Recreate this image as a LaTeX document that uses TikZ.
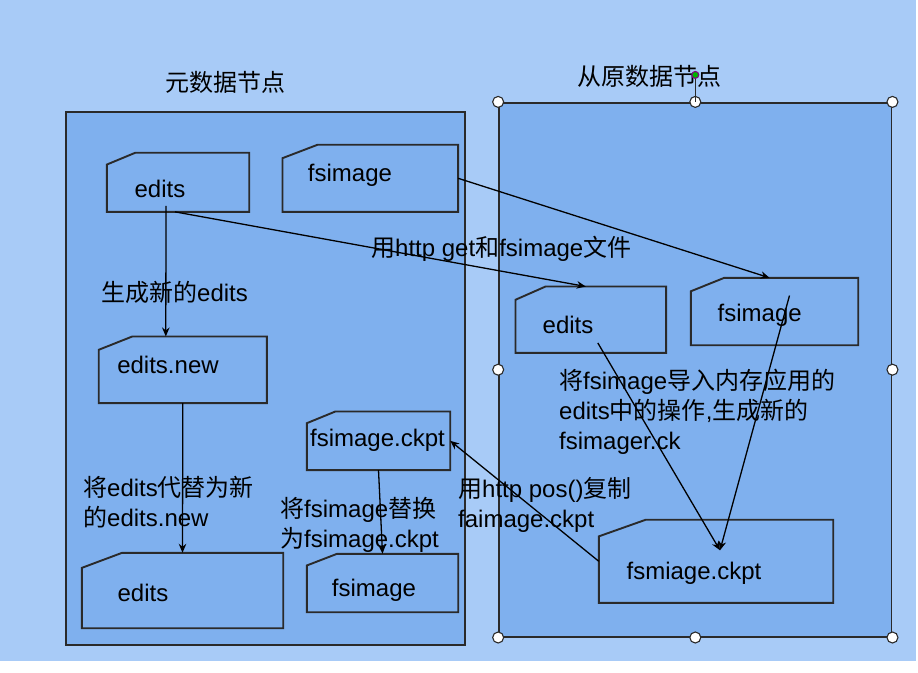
\documentclass[tikz,border=0pt]{standalone}
\usepackage{fontspec}
\setmainfont{Liberation Sans}
\newfontfamily\cjk{Noto Sans CJK SC}
\usetikzlibrary{arrows.meta, calc}
\definecolor{pagebg}{HTML}{A8CBF7}
\definecolor{boxbg}{HTML}{7FB0EE}
\definecolor{linegray}{HTML}{2A2A2A}
\newcommand{\drawCard}[1]{\draw[cardline] (#1.south west) -- (#1.south east) -- (#1.north east) -- ($(#1.north west)!0.2!(#1.north east)$) -- ($(#1.north west)!0.2!(#1.south west)$) -- cycle;}
\newcommand{\drawHandle}[1]{\draw[handle] (#1) circle (5.5pt);}
\tikzset{x=1pt, y=-1pt,
    >={Stealth[length=9pt,width=7.5pt]},
    card/.style 2 args={minimum width=#1pt, minimum height=#2pt, inner sep=0pt},
    cardtext/.style={font=\fontsize{24}{28}\selectfont, inner sep=0pt},
    lbl/.style={font=\fontsize{24}{30}\selectfont, inner sep=0pt, align=left, anchor=west},
    flow/.style={->, line width=1.3pt, black},
    cardline/.style={line width=1.9pt, draw=linegray},
    frame/.style={line width=1.6pt, draw=linegray, fill=boxbg, inner sep=0pt},
    handle/.style={line width=1.1pt, draw=linegray, fill=white}}

\begin{document}
\begin{tikzpicture}
\fill[white] (0,0) rectangle (918,672);
\fill[pagebg] (0,0) rectangle (916,661);
\useasboundingbox (0,0) rectangle (918,672);

% two node frames
\node[frame, minimum width=399pt, minimum height=533pt] (meta) at (265.5,378.5) {};
\node[frame, minimum width=392.7pt, minimum height=534pt] (slave) at (695.3,369.7) {};
\node[cardtext] (metaT) at (225,82) {\cjk 元数据节点};
\node[cardtext] (slaveT) at (649,76) {\cjk 从原数据节点};

% cards, left side
\node[card={142}{58.7}] (edA) at (178,182.3) {};
\node[card={175.3}{66.7}] (fsA) at (370.3,178.3) {};
\node[card={167.7}{66.3}] (edN) at (182.8,369.8) {};
\node[card={201}{75}] (edB) at (182.5,590.5) {};
\node[card={143}{58.3}] (ckL) at (378.5,440.8) {};
\node[card={151}{58}] (fsB) at (382.5,583) {};
% cards, right side
\node[card={150.3}{66}] (edR) at (590.8,319.7) {};
\node[card={167}{67}] (fsR) at (774.5,311.5) {};
\node[card={234}{82.7}] (ckR) at (716,561.3) {};

\foreach \c in {edA,fsA,edN,edB,ckL,fsB,edR,fsR,ckR}
    {\drawCard{\c}}

\node[cardtext] (edAt) at (160,189) {edits};
\node[cardtext] (fsAt) at (350,175) {fsimage};
\node[cardtext] (edNt) at (168,365) {edits.new};
\node[cardtext] (edBt) at (143,593) {edits};
\node[cardtext] (ckLt) at (377.5,440) {fsimage.ckpt};
\node[cardtext] (fsBt) at (374,590) {fsimage};
\node[cardtext] (edRt) at (568,325) {edits};
\node[cardtext] (fsRt) at (759.7,315) {fsimage};
\node[cardtext] (ckRt) at (694,573) {fsmiage.ckpt};

% connectors
\draw[flow] ([xshift=-12pt,yshift=6pt]edA.south) -- ([xshift=-17pt]edN.north);
\draw[flow] (edN.south) -- (edB.north);
\draw[flow] (ckL.south) -- (fsB.north);
\draw[flow] (fsA.east) -- ([xshift=-5pt]fsR.north);
\draw[flow] ([xshift=-3pt]edA.south) -- ([xshift=-5pt]edR.north);
\coordinate (join) at ($(ckR.center)+(4,-11)$);
\draw[flow] ([xshift=7pt,yshift=10pt]edR.south) -- (join);
\draw[flow] ([xshift=15pt,yshift=16pt]fsR.center) -- (join);
\draw[flow] (ckR.west) -- (ckL.east);

% labels
\node[lbl] (lNew) at (101,292) {{\cjk 生成新的}edits};
\node[lbl] (lGet) at (371,249) {{\cjk 用}http get{\cjk 和}fsimage{\cjk 文件}};
\node[lbl] (lLoad) at (559,412) {{\cjk 将}fsimage{\cjk 导入内存应用的}\\edits{\cjk 中的操作},{\cjk 生成新的}\\fsimager.ck};
\node[lbl] (lRep) at (83,502) {{\cjk 将}edits{\cjk 代替为新}\\{\cjk 的}edits.new};
\node[lbl] (lSwap) at (280,525) {{\cjk 将}fsimage{\cjk 替换}\\{\cjk 为}fsimage.ckpt};
\node[lbl] (lPos) at (458,505) {{\cjk 用}http pos(){\cjk 复制}\\faimage.ckpt};

% selection handles
\foreach \a in {north west,north,north east,west,east,south west,south,south east}
    {\drawHandle{slave.\a}}
\coordinate (rot) at ($(slave.north)+(0,-27)$);
\draw[line width=1.3pt, draw=linegray] (slave.north) -- (rot);
\draw[line width=1pt, draw=violet, fill=green!70!black] (rot) circle (3.5pt);
\end{tikzpicture}
\end{document}
